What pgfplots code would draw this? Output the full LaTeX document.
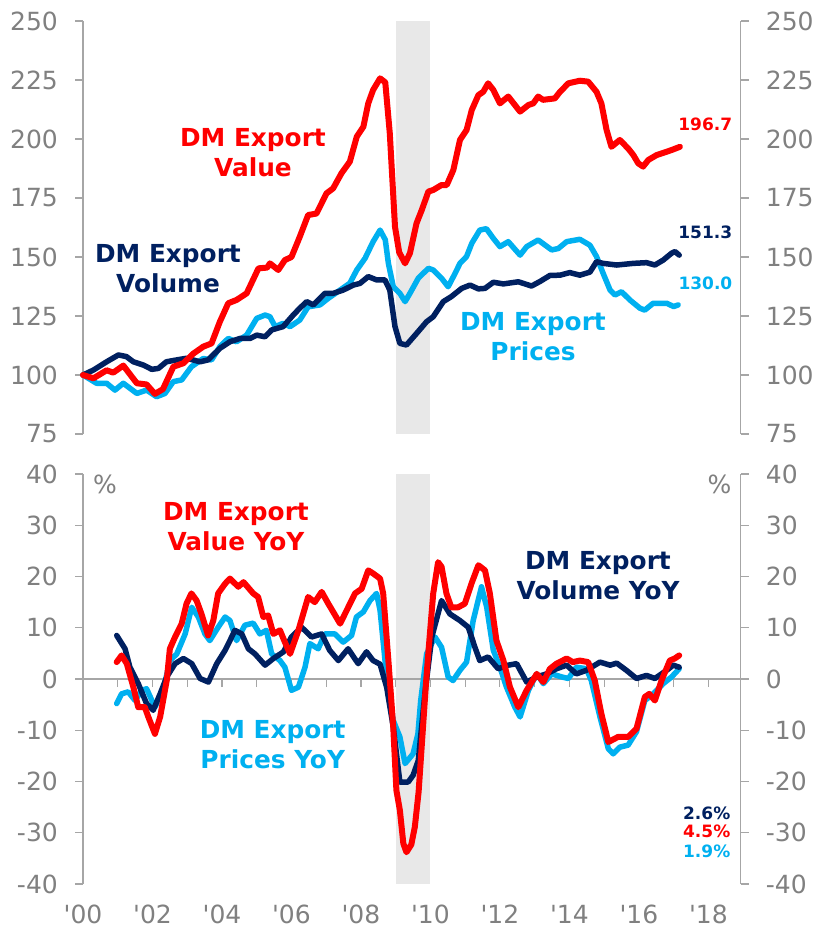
\documentclass[border=0pt]{standalone}
\usepackage{pgfplots}
\pgfplotsset{compat=1.18}
\usepackage{fontspec}
\setmainfont{DejaVu Sans}
\definecolor{cRed}{RGB}{255,0,0}
\definecolor{cNavy}{RGB}{0,32,96}
\definecolor{cLight}{RGB}{0,176,240}
\definecolor{cAxis}{RGB}{166,166,166}
\definecolor{cTick}{RGB}{128,128,128}
\definecolor{cShade}{RGB}{232,232,232}
\pgfplotsset{
  base/.style={
    scale only axis, width=657.7bp,
    xmin=2000, xmax=2018.93,
    axis line style={cAxis, line width=1.2bp},
    tick style={cAxis, line width=1.2bp},
    major tick length=8bp, tick align=outside,
    ticklabel style={font=\fontsize{25bp}{29bp}\selectfont, text=cTick, inner sep=0pt},
    /pgf/number format/assume math mode=true,
    clip=false,
  },
  leftax/.style={axis y line*=left, ytick pos=left, yticklabel style={anchor=east, xshift=-17bp}},
  rightax/.style={axis y line*=right, ytick pos=right, yticklabel style={anchor=west, xshift=17bp}},
  ser/.style={line width=5.5bp, line join=round, line cap=round, color=#1},
  topgeo/.style={at={(83bp,-21bp)}, anchor=north west, height=413bp, ymin=75, ymax=250, ytick={75,100,...,250}},
  botgeo/.style={at={(83bp,-474bp)}, anchor=north west, height=410bp, ymin=-40, ymax=40},
}
\begin{document}
\begin{tikzpicture}
\useasboundingbox (0,0) rectangle (817bp,-930bp);
% ---------------- TOP PANEL ----------------
\begin{axis}[base, leftax, topgeo, axis x line=none]
\fill[cShade] (axis cs:2009,75) rectangle (axis cs:2010,250);
\addplot[ser=cLight] coordinates {(2000.0,100) (2000.39,96.5) (2000.68,96.5) (2000.92,93.6) (2001.16,96.5) (2001.55,92.2) (2001.83,93.6) (2002.12,90.8) (2002.36,92.2) (2002.6,97.2) (2002.84,97.9) (2003.12,103.5) (2003.46,107) (2003.7,106.4) (2003.94,112) (2004.18,115.5) (2004.42,114.1) (2004.71,116.9) (2005.0,124) (2005.24,125.4) (2005.38,124.7) (2005.53,120.5) (2005.76,121.9) (2005.96,120.5) (2006.24,123.3) (2006.48,128.9) (2006.82,129.7) (2007.06,132.5) (2007.4,136) (2007.68,138.9) (2007.88,144.5) (2008.12,149.5) (2008.35,156.5) (2008.55,161.4) (2008.7,157.3) (2008.79,147.3) (2008.93,137.4) (2009.12,134.6) (2009.27,131.1) (2009.41,134.6) (2009.65,141) (2009.94,145.2) (2010.08,144.5) (2010.32,141) (2010.51,137.4) (2010.71,143.1) (2010.85,147.3) (2011.04,150.2) (2011.19,155.8) (2011.42,161.4) (2011.61,162) (2011.81,157.9) (2012.0,154.4) (2012.24,156.5) (2012.58,150.8) (2012.77,154.4) (2013.1,157.2) (2013.49,153) (2013.68,153.6) (2013.92,156.5) (2014.3,157.5) (2014.59,155) (2014.78,150.2) (2014.97,143.1) (2015.17,136) (2015.31,133.9) (2015.5,135.3) (2015.74,131.8) (2016.03,128.3) (2016.17,127.5) (2016.41,130.4) (2016.8,130.4) (2017.0,129) (2017.13,129.7)};
\addplot[ser=cNavy] coordinates {(2000.0,100) (2000.3,102.1) (2000.68,105.6) (2001.02,108.5) (2001.25,107.8) (2001.45,105.6) (2001.74,104.2) (2001.98,102.4) (2002.17,102.8) (2002.4,105.6) (2002.7,106.4) (2002.98,107.1) (2003.37,105.6) (2003.6,106.4) (2003.94,111.3) (2004.23,114.1) (2004.52,115.5) (2004.81,115.5) (2005.0,116.9) (2005.24,116.2) (2005.43,119.1) (2005.76,120.5) (2006.05,125.4) (2006.24,128.3) (2006.44,131.1) (2006.63,129.7) (2006.96,134.6) (2007.2,134.6) (2007.49,136) (2007.78,138.1) (2007.97,138.8) (2008.21,141.7) (2008.45,140.3) (2008.69,140.3) (2008.83,136) (2008.98,120.5) (2009.12,113.4) (2009.31,112.7) (2009.6,117.6) (2009.89,122.6) (2010.08,124.7) (2010.37,131.1) (2010.6,133.2) (2010.9,136.7) (2011.14,138.1) (2011.38,136.5) (2011.57,136.7) (2011.81,139.3) (2012.1,138.6) (2012.53,139.5) (2012.91,137.7) (2013.15,139.6) (2013.44,142.2) (2013.73,142.3) (2014.01,143.4) (2014.3,142.3) (2014.59,143.6) (2014.78,148) (2014.97,147.3) (2015.36,146.6) (2015.84,147.3) (2016.22,147.6) (2016.46,146.6) (2016.7,148.7) (2016.94,151.6) (2017.04,152.3) (2017.16,150.8)};
\addplot[ser=cRed, line width=6bp] coordinates {(2000.0,100) (2000.3,98.6) (2000.68,102) (2000.87,101) (2001.16,104) (2001.55,96.5) (2001.83,96) (2002.07,92) (2002.3,94) (2002.6,103.5) (2002.89,105) (2003.17,109) (2003.46,112) (2003.7,113.4) (2003.94,122.6) (2004.18,130.4) (2004.42,131.8) (2004.71,134.6) (2005.05,145.2) (2005.3,145.5) (2005.38,147.3) (2005.62,144.5) (2005.81,148.7) (2006.0,150) (2006.24,158.6) (2006.48,167.8) (2006.72,168.4) (2007.01,177) (2007.2,179.1) (2007.44,185.5) (2007.68,190.4) (2007.88,201) (2008.07,205.2) (2008.21,215.1) (2008.35,220.8) (2008.55,225.7) (2008.7,224) (2008.83,202.4) (2008.98,162.8) (2009.1,152) (2009.27,147.3) (2009.41,151.6) (2009.6,164.3) (2009.75,169.9) (2009.94,177.7) (2010.08,178.4) (2010.32,180.5) (2010.47,180.5) (2010.66,186.9) (2010.85,199.6) (2011.04,203.8) (2011.19,212.3) (2011.38,218.6) (2011.52,220) (2011.66,223.6) (2011.81,220.8) (2012.0,215.1) (2012.24,218) (2012.58,211.6) (2012.82,214.4) (2012.96,215.1) (2013.1,218) (2013.24,216.6) (2013.58,217.2) (2013.73,220) (2013.97,223.6) (2014.3,224.7) (2014.54,224.3) (2014.78,220) (2014.92,215.1) (2015.07,203.8) (2015.21,196.7) (2015.45,199.6) (2015.69,196) (2015.84,193.2) (2015.98,189.7) (2016.12,188.3) (2016.27,191.1) (2016.51,193.2) (2016.8,194.6) (2016.99,195.6) (2017.18,196.7)};
\end{axis}
\begin{axis}[base, rightax, topgeo, axis x line=none]
\end{axis}
% ---------------- BOTTOM PANEL ----------------
\begin{axis}[base, botgeo, axis x line=none, axis y line=none, ytick=\empty, xtick=\empty]
\fill[cShade] (axis cs:2009,-40) rectangle (axis cs:2010,40);
\end{axis}
% zero line with yearly ticks (upper half axis whose bottom is y=0)
\begin{axis}[base, at={(83bp,-474bp)}, anchor=north west, height=205bp, ymin=0, ymax=40,
  axis y line=none, axis x line*=bottom, x axis line style={-},
  xtick={2001,2002,...,2018}, xticklabels={}, ytick=\empty]
\end{axis}
\begin{axis}[base, leftax, botgeo, ytick={-40,-30,...,40}, axis x line=none]
\addplot[ser=cLight] coordinates {(2000.97,-4.8) (2001.11,-2.9) (2001.3,-2.5) (2001.5,-4.2) (2001.69,-2.2) (2001.83,-1.9) (2002.07,-5.5) (2002.31,-2.2) (2002.5,3.6) (2002.7,4.9) (2002.94,8.8) (2003.13,14) (2003.32,12.1) (2003.51,8.8) (2003.65,7.5) (2003.89,10.1) (2004.09,12.1) (2004.23,11.4) (2004.42,7.5) (2004.66,10.5) (2004.9,10.9) (2005.09,8.8) (2005.28,9.5) (2005.43,4.9) (2005.67,3.6) (2005.81,2.3) (2006.0,-2.2) (2006.2,-1.6) (2006.39,2.3) (2006.53,6.9) (2006.77,5.9) (2006.96,8.8) (2007.25,8.8) (2007.49,7.2) (2007.73,8.5) (2007.87,12.1) (2008.07,13.1) (2008.26,15.3) (2008.45,16.7) (2008.55,13.4) (2008.74,0.4) (2008.93,-8.1) (2009.12,-11.3) (2009.27,-16.5) (2009.5,-14.6) (2009.64,-10.7) (2009.72,-4.2) (2009.89,4.9) (2010.13,8.2) (2010.32,6.2) (2010.51,0.4) (2010.65,-0.3) (2010.85,1.7) (2011.04,3.3) (2011.23,11.4) (2011.47,18) (2011.62,14) (2011.81,5.6) (2012.0,2.3) (2012.19,-1.6) (2012.43,-5.5) (2012.58,-7.4) (2012.82,-2.2) (2013.06,1) (2013.25,-0.9) (2013.49,1) (2013.78,0.4) (2013.97,0.1) (2014.2,2.3) (2014.49,2) (2014.63,-0.3) (2014.88,-7.4) (2015.12,-13.6) (2015.26,-14.6) (2015.45,-13.3) (2015.69,-12.9) (2015.93,-10.3) (2016.17,-4.2) (2016.41,-2.9) (2016.7,-0.9) (2016.94,0.4) (2017.16,2)};
\addplot[ser=cNavy] coordinates {(2000.97,8.5) (2001.21,5.9) (2001.35,2.3) (2001.59,-0.9) (2001.83,-4.8) (2002.02,-6.1) (2002.22,-2.9) (2002.41,0.4) (2002.65,3) (2002.89,4) (2003.13,3) (2003.37,0.1) (2003.61,-0.6) (2003.85,3) (2004.09,5.6) (2004.23,7.5) (2004.37,9.5) (2004.57,8.8) (2004.76,5.9) (2004.95,4.9) (2005.24,2.7) (2005.48,4) (2005.77,5.3) (2006.0,8.2) (2006.29,10.1) (2006.58,8.2) (2006.87,8.8) (2007.1,5.6) (2007.35,3.6) (2007.63,5.9) (2007.92,3) (2008.16,5.3) (2008.35,3.6) (2008.55,2.9) (2008.74,-1.6) (2008.93,-9.4) (2009.12,-20.1) (2009.36,-20.1) (2009.5,-18.8) (2009.65,-15.9) (2009.84,-2.9) (2010.04,8.2) (2010.32,15.3) (2010.56,12.7) (2010.85,11.4) (2011.09,10.1) (2011.28,6.2) (2011.42,3.6) (2011.66,4.3) (2011.95,2) (2012.24,2.7) (2012.48,3) (2012.77,-0.6) (2013.06,0.4) (2013.34,1) (2013.63,2) (2013.92,2.7) (2014.2,1) (2014.49,1.7) (2014.88,3.3) (2015.17,2.7) (2015.36,3.1) (2015.64,1.7) (2015.93,0.1) (2016.22,0.7) (2016.46,0.1) (2016.8,1.7) (2016.99,2.7) (2017.16,2.3)};
\addplot[ser=cRed, line width=6bp] coordinates {(2000.97,3.3) (2001.11,4.6) (2001.26,3) (2001.45,-1.6) (2001.59,-5.5) (2001.78,-5.5) (2001.88,-7.4) (2002.07,-10.7) (2002.22,-7.4) (2002.41,-0.3) (2002.5,5.9) (2002.65,8.2) (2002.84,10.8) (2002.98,14.7) (2003.12,16.7) (2003.27,15.3) (2003.41,12.7) (2003.6,8.5) (2003.75,11.4) (2003.89,16.7) (2004.09,18.6) (2004.23,19.6) (2004.47,18) (2004.62,18.9) (2004.9,16.7) (2005.04,16) (2005.19,12.1) (2005.33,12.4) (2005.48,8.8) (2005.67,9.5) (2005.81,7.2) (2005.96,4.9) (2006.2,9.5) (2006.48,16) (2006.67,15) (2006.87,17) (2007.06,14.7) (2007.2,13.1) (2007.4,10.8) (2007.59,13.4) (2007.83,16.7) (2008.02,17.6) (2008.21,21.2) (2008.35,20.6) (2008.55,19.6) (2008.64,16.7) (2008.79,3.6) (2008.93,-9.4) (2009.02,-21.7) (2009.12,-25.6) (2009.22,-32.1) (2009.31,-33.8) (2009.45,-32.3) (2009.55,-28.9) (2009.66,-22) (2009.76,-12) (2009.87,-1) (2009.95,6) (2010.08,16.7) (2010.22,22.8) (2010.32,21.9) (2010.46,16.7) (2010.6,14) (2010.8,14) (2010.99,14.7) (2011.18,18.6) (2011.38,22.2) (2011.57,21.2) (2011.71,16.7) (2011.9,7.5) (2012.1,3.6) (2012.29,-1.6) (2012.53,-5.5) (2012.77,-2.2) (2013.06,1) (2013.25,-0.6) (2013.44,2) (2013.63,3) (2013.92,4) (2014.1,3.3) (2014.3,3.6) (2014.54,3.3) (2014.73,-0.3) (2014.92,-6.8) (2015.12,-12.3) (2015.4,-11.3) (2015.69,-11.3) (2015.93,-9.7) (2016.17,-3.5) (2016.3,-2.9) (2016.46,-4.2) (2016.65,-0.3) (2016.89,3.6) (2017.03,4) (2017.16,4.6)};
\end{axis}
\begin{axis}[base, rightax, botgeo, ytick={-40,-30,...,40}, axis x line=none]
\end{axis}
\begin{axis}[base, botgeo, axis y line=none, axis x line*=bottom, x axis line style={draw=none},
  major tick length=0pt, tick style={draw=none},
  xtick={2000,2002,...,2018},
  xticklabels={{\textquotesingle{}00},{\textquotesingle{}02},{\textquotesingle{}04},{\textquotesingle{}06},{\textquotesingle{}08},{\textquotesingle{}10},{\textquotesingle{}12},{\textquotesingle{}14},{\textquotesingle{}16},{\textquotesingle{}18}},
  xticklabel style={anchor=north, yshift=-21bp}]
\end{axis}
% ---------------- TEXT ----------------
\begin{scope}[every node/.style={align=center, inner sep=0pt, font=\fontsize{24.8bp}{30bp}\selectfont\bfseries}]
\node[text=cRed] at (253bp,-152.5bp) {DM Export\\Value};
\node[text=cNavy] at (168bp,-268.3bp) {DM Export\\Volume};
\node[text=cLight] at (533bp,-336.7bp) {DM Export\\Prices};
\node[text=cRed] at (236bp,-526.7bp) {DM Export\\Value YoY};
\node[text=cLight] at (272.7bp,-744.2bp) {DM Export\\Prices YoY};
\node[text=cNavy] at (598bp,-575.3bp) {DM Export\\Volume YoY};
\end{scope}
\begin{scope}[every node/.style={anchor=east, inner sep=0pt, font=\fontsize{17bp}{20bp}\selectfont\bfseries}]
\node[text=cRed] at (732.3bp,-124.8bp) {196.7};
\node[text=cNavy] at (732.3bp,-232bp) {151.3};
\node[text=cLight] at (732.5bp,-283bp) {130.0};
\node[text=cNavy] at (730.5bp,-813bp) {2.6\%};
\node[text=cRed] at (730.5bp,-831.5bp) {4.5\%};
\node[text=cLight] at (730.5bp,-851.5bp) {1.9\%};
\end{scope}
\node[text=cTick, inner sep=0pt, font=\fontsize{25bp}{29bp}\selectfont] at (105bp,-484bp) {\%};
\node[text=cTick, inner sep=0pt, font=\fontsize{25bp}{29bp}\selectfont] at (719.5bp,-484bp) {\%};
\end{tikzpicture}
\end{document}
